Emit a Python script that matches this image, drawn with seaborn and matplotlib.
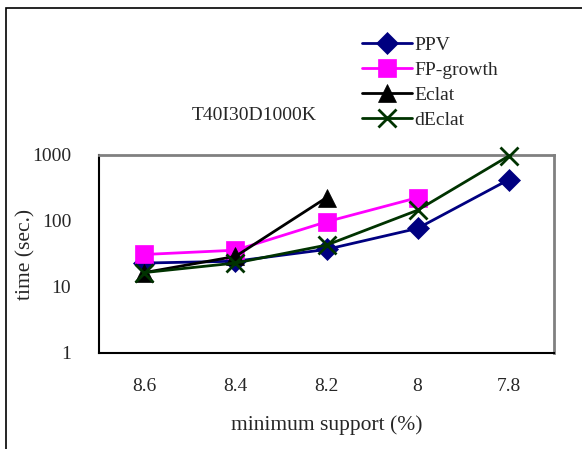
import matplotlib
matplotlib.use("Agg")
import matplotlib.pyplot as plt
import seaborn as sns
import pandas as pd
from matplotlib.patches import Rectangle

categories = ["8.6", "8.4", "8.2", "8", "7.8"]
ppv = [23, 24.5, 37, 77, 420]
fp_growth = [31, 36, 97, 225]
eclat = [16.5, 29, 225]
declat = [16.5, 23, 43, 145, 960]
yticks = [1, 10, 100, 1000]

series = [
    ("PPV", ppv, "#000080", "D", 11),
    ("FP-growth", fp_growth, "#FF00FF", "s", 12.5),
    ("Eclat", eclat, "#000000", "^", 13),
    ("dEclat", declat, "#003300", "x", 13),
]

sns.set_style("white")
plt.rcParams["font.family"] = ["Liberation Serif", "DejaVu Serif"]

fig = plt.figure(figsize=(5.82, 4.49), dpi=100)
ax = fig.add_axes([0.170, 0.214, 0.782, 0.441])

for name, vals, color, marker, ms in series:
    df = pd.DataFrame({"x": list(range(len(vals))), "y": vals})
    kw = dict(markeredgecolor=color, markersize=ms)
    if marker == "x":
        kw["markeredgewidth"] = 2.0
    else:
        kw["markeredgewidth"] = 0.5
    sns.lineplot(data=df, x="x", y="y", ax=ax, color=color, marker=marker,
                 linewidth=2, label=name, clip_on=False, zorder=3, **kw)

ax.set_yscale("log")
ax.set_ylim(1, 1000)
ax.set_xlim(-0.5, 4.5)
ax.set_yticks(yticks)
ax.set_yticklabels([str(v) for v in yticks])
ax.minorticks_off()
ax.set_xticks(range(len(categories)))
ax.set_xticklabels(categories)
ax.set_xticks([i + 0.5 for i in range(len(categories) - 1)] + [-0.5, 4.5], minor=True)
ax.tick_params(axis="x", which="major", length=0, pad=18, labelsize=14)
ax.tick_params(axis="x", which="minor", direction="in", length=6, width=1, color="black")
ax.tick_params(axis="y", direction="in", length=5, width=1, pad=20, labelsize=14, color="black")
ax.set_xlabel("minimum support (%)", fontsize=15.5, labelpad=15)
ax.set_ylabel("time (sec.)", fontsize=15.5)
ax.yaxis.set_label_coords((36 - 99) / 455, 0.495)

for s in ["left", "bottom"]:
    ax.spines[s].set_color("black")
    ax.spines[s].set_linewidth(1.5)
for s in ["top", "right"]:
    ax.spines[s].set_color("#808080")
    ax.spines[s].set_linewidth(2)

handles, labels = ax.get_legend_handles_labels()
ax.get_legend().remove()
fig.legend(handles, labels, loc="center left", bbox_to_anchor=(362 / 582, 1 - 82.5 / 449),
           frameon=False, fontsize=14, handlelength=2.55, handletextpad=0.12,
           labelspacing=0.38, borderaxespad=0, borderpad=0)

fig.text(254 / 582, 1 - 115 / 449, "T40I30D1000K", ha="center", va="center", fontsize=14)

fig.patches.append(Rectangle((6 / 582, -0.1), 2, 1.1 - 8 / 449, transform=fig.transFigure,
                             fill=False, edgecolor="black", linewidth=1.2))

fig.savefig("out.png", dpi=100)
